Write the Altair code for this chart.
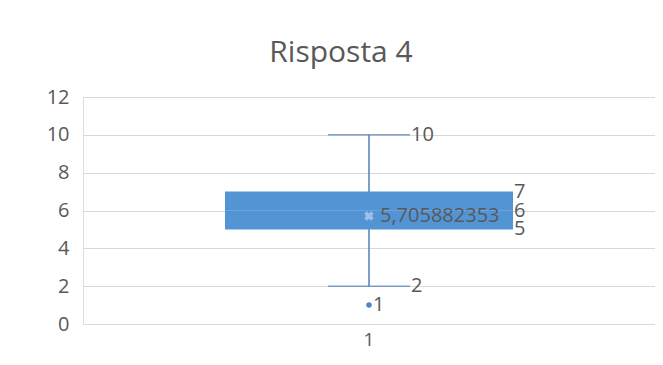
import altair as alt
import pandas as pd

# ---- data ----
categories = ["1"]
q1 = [5]
median = [6]
q3 = [7]
whisker_low = [2]
whisker_high = [10]
mean = [5.705882353]
outliers = [1]
y_ticks = [0, 2, 4, 6, 8, 10, 12]
title_text = "Risposta 4"

TXT = "#595959"
FONT = "Open Sans"
BOX = "#5394d5"
LINE = "#4f7fb8"

box_df = pd.DataFrame({
    "cat": categories, "q1": q1, "median": median, "q3": q3,
    "lo": whisker_low, "hi": whisker_high, "mean": mean,
    "mean_label": [str(m).replace(".", ",") for m in mean],
})
quart_df = pd.DataFrame({
    "cat": categories * 3,
    "v": [q3[0], median[0], q1[0]],
})
quart_df["lab"] = quart_df["v"].astype(str)
whisk_df = pd.DataFrame({
    "cat": categories * 2,
    "v": [whisker_high[0], whisker_low[0]],
})
whisk_df["lab"] = whisk_df["v"].astype(str)
out_df = pd.DataFrame({"cat": categories * len(outliers), "v": outliers})
out_df["lab"] = out_df["v"].astype(str)

x_enc = alt.X(
    "cat:N",
    scale=alt.Scale(domain=categories, paddingOuter=0.493, paddingInner=0),
    axis=alt.Axis(title=None, labelAngle=0, ticks=False, domain=False, grid=False,
                  labelFontSize=19, labelColor=TXT, labelFont=FONT, labelPadding=6),
)
y_scale = alt.Scale(domain=[0, 12])
y_axis = alt.Axis(title=None, values=y_ticks, ticks=False, domain=False,
                  gridColor="#d9d9d9", labelFontSize=20, labelColor=TXT,
                  labelFont=FONT, labelPadding=14)

base = alt.Chart(box_df)

whisker = base.mark_rule(color=LINE, strokeWidth=1.5).encode(
    x=x_enc, y=alt.Y("lo:Q", scale=y_scale, axis=y_axis), y2="hi:Q")

caps = alt.Chart(whisk_df).mark_tick(color=LINE, size=82, thickness=1.5).encode(
    x=x_enc, y=alt.Y("v:Q", scale=y_scale, axis=y_axis))

box = base.mark_bar(color=BOX).encode(
    x=x_enc, y=alt.Y("q1:Q", scale=y_scale, axis=y_axis), y2="q3:Q")

med = base.mark_tick(color="#7aa9dc", size=288, thickness=1).encode(
    x=x_enc, y=alt.Y("median:Q", scale=y_scale, axis=y_axis))

mean_pt = base.mark_point(shape="cross", angle=45, filled=True, size=90,
                          color="#9fc0e8", opacity=1).encode(
    x=x_enc, y=alt.Y("mean:Q", scale=y_scale, axis=y_axis))

mean_txt = base.mark_text(align="left", baseline="middle", dx=11, fontSize=20,
                          font=FONT, color=TXT).encode(
    x=x_enc, y=alt.Y("mean:Q", scale=y_scale, axis=y_axis), text="mean_label:N")

quart_txt = alt.Chart(quart_df).mark_text(align="left", baseline="middle", dx=145,
                                          fontSize=20, font=FONT, color=TXT).encode(
    x=x_enc, y=alt.Y("v:Q", scale=y_scale, axis=y_axis), text="lab:N")

whisk_txt = alt.Chart(whisk_df).mark_text(align="left", baseline="middle", dx=42,
                                          fontSize=20, font=FONT, color=TXT).encode(
    x=x_enc, y=alt.Y("v:Q", scale=y_scale, axis=y_axis), text="lab:N")

out_pt = alt.Chart(out_df).mark_circle(size=30, color="#4a86c8", opacity=1).encode(
    x=x_enc, y=alt.Y("v:Q", scale=y_scale, axis=y_axis))

out_txt = alt.Chart(out_df).mark_text(align="left", baseline="middle", dx=4,
                                      fontSize=20, font=FONT, color=TXT).encode(
    x=x_enc, y=alt.Y("v:Q", scale=y_scale, axis=y_axis), text="lab:N")

chart = alt.layer(
    whisker, caps, box, med, mean_pt, mean_txt, quart_txt, whisk_txt, out_pt, out_txt
).properties(
    width=572, height=227,
    autosize="none",
    padding={"left": 75, "top": 89, "right": 0, "bottom": 29},
    title=alt.TitleParams(title_text, anchor="middle", frame="group", fontSize=30,
                          font=FONT, fontWeight="normal", color=TXT,
                          baseline="alphabetic", offset=-5, dx=-28),
).configure_view(stroke="#d9d9d9").configure(background="white")

chart.save("out.html", embed_options={"renderer": "svg", "actions": False})
